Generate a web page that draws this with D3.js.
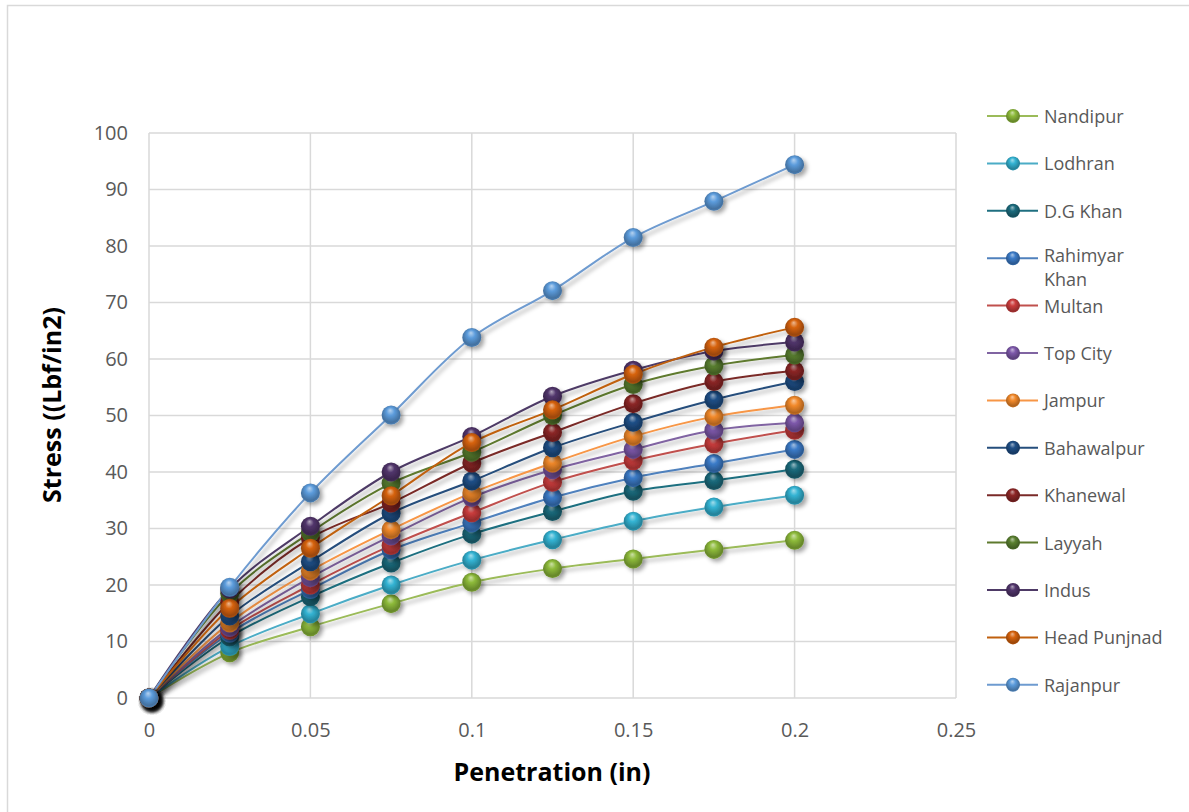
<!DOCTYPE html>
<html>
<head>
<meta charset="utf-8">
<script src="https://cdn.jsdelivr.net/npm/d3@7"></script>
<style>
  html, body { margin: 0; padding: 0; background: #fff; }
  svg { display: block; font-family: "Open Sans", "Noto Sans", sans-serif; }
</style>
</head>
<body>
<svg id="chart" width="1189" height="812"></svg>
<script>
// Penetration readings (in) and CBR stress (Lbf/in2) for each site
const penetration = [0, 0.025, 0.05, 0.075, 0.1, 0.125, 0.15, 0.175, 0.2];

const nandipur     = [0, 8.0, 12.6, 16.7, 20.5, 22.9, 24.6, 26.3, 27.9];
const lodhran      = [0, 9.1, 14.9, 20.0, 24.4, 28.0, 31.3, 33.8, 35.9];
const dgKhan       = [0, 10.8, 17.9, 23.9, 29.0, 33.0, 36.6, 38.5, 40.5];
const rahimyarKhan = [0, 11.5, 19.2, 26.2, 31.0, 35.5, 39.0, 41.5, 44.0];
const multan       = [0, 12.0, 20.0, 27.0, 32.8, 38.2, 42.0, 45.0, 47.4];
const topCity      = [0, 12.5, 21.3, 28.7, 35.5, 40.4, 44.0, 47.4, 48.7];
const jampur       = [0, 13.3, 22.5, 29.8, 36.3, 41.6, 46.3, 49.8, 51.8];
const bahawalpur   = [0, 14.5, 24.1, 32.7, 38.4, 44.3, 48.8, 52.8, 56.0];
const khanewal     = [0, 17.0, 28.3, 34.5, 41.6, 47.0, 52.1, 56.0, 57.9];
const layyah       = [0, 18.5, 29.3, 38.0, 43.5, 50.0, 55.5, 58.8, 60.7];
const indus        = [0, 19.3, 30.4, 40.0, 46.3, 53.4, 58.0, 61.4, 63.0];
const headPunjnad  = [0, 15.9, 26.5, 35.8, 45.2, 51.0, 57.3, 62.1, 65.6];
const rajanpur     = [0, 19.6, 36.3, 50.1, 63.8, 72.1, 81.5, 87.9, 94.4];

const seriesNames = ["Nandipur", "Lodhran", "D.G Khan", "Rahimyar Khan", "Multan", "Top City",
  "Jampur", "Bahawalpur", "Khanewal", "Layyah", "Indus", "Head Punjnad", "Rajanpur"];
const seriesValues = [nandipur, lodhran, dgKhan, rahimyarKhan, multan, topCity,
  jampur, bahawalpur, khanewal, layyah, indus, headPunjnad, rajanpur];

const xTicks = [0, 0.05, 0.1, 0.15, 0.2, 0.25];
const yTicks = [0, 10, 20, 30, 40, 50, 60, 70, 80, 90, 100];

const xTitle = "Penetration (in)";
const yTitle = "Stress ((Lbf/in2)";

// line colour and marker colour per series
const lineColors = ["#9BBB59", "#4BACC6", "#1F6F80", "#4F81BD", "#C0504D", "#8064A2",
  "#F79646", "#254E7C", "#7A2A28", "#5E7A2E", "#4E3A66", "#C0600E", "#6E9BD0"];
const ballColors = ["#8DBA3A", "#33B3D3", "#1B6B7D", "#3B7BC8", "#CC3D3D", "#7D58AA",
  "#F2892A", "#1F4F87", "#8C2626", "#5A8030", "#51356B", "#D6620C", "#5C9CDC"];

const svg = d3.select("#chart");
const defs = svg.append("defs");

// soft grey shadow under lines and markers
const shadow = defs.append("filter").attr("id", "shadow")
  .attr("x", "-50%").attr("y", "-50%").attr("width", "200%").attr("height", "200%");
shadow.append("feDropShadow").attr("dx", 3).attr("dy", 3).attr("stdDeviation", 2)
  .attr("flood-color", "#000").attr("flood-opacity", 0.35);

// glossy sphere shading for each marker colour
ballColors.forEach((c, i) => {
  const g = defs.append("radialGradient").attr("id", "ball" + i)
    .attr("cx", "50%").attr("cy", "45%").attr("r", "60%")
    .attr("fx", "45%").attr("fy", "25%");
  const base = d3.color(c);
  g.append("stop").attr("offset", "0%").attr("stop-color", d3.interpolateRgb(c, "#fff")(0.55));
  g.append("stop").attr("offset", "35%").attr("stop-color", c);
  g.append("stop").attr("offset", "80%").attr("stop-color", base.darker(0.9));
  g.append("stop").attr("offset", "100%").attr("stop-color", base.darker(0.4));
});

// chart frame
svg.append("rect").attr("x", 7.5).attr("y", 5.5).attr("width", 1300).attr("height", 900)
  .attr("fill", "#fff").attr("stroke", "#D9D9D9").attr("stroke-width", 1.5);

const plot = { left: 149, right: 956, top: 133, bottom: 698 };
const x = d3.scaleLinear().domain([0, 0.25]).range([plot.left, plot.right]);
const y = d3.scaleLinear().domain([0, 100]).range([plot.bottom, plot.top]);

// gridlines
const grid = svg.append("g").attr("stroke", "#D9D9D9").attr("stroke-width", 1.5);
grid.selectAll("line.h").data(yTicks).join("line")
  .attr("x1", plot.left).attr("x2", plot.right)
  .attr("y1", d => y(d)).attr("y2", d => y(d));
grid.selectAll("line.v").data(xTicks).join("line")
  .attr("y1", plot.top).attr("y2", plot.bottom)
  .attr("x1", d => x(d)).attr("x2", d => x(d));

// axes (labels only, gridlines carry the lines)
const yAxis = svg.append("g").attr("transform", `translate(${plot.left - 21},0)`)
  .call(d3.axisLeft(y).tickValues(yTicks).tickSize(0).tickPadding(0).tickFormat(d3.format("d")));
yAxis.select(".domain").remove();
yAxis.selectAll("text").attr("font-size", 20).attr("fill", "#595959")
  .attr("font-family", "Open Sans, sans-serif");

const xAxis = svg.append("g").attr("transform", `translate(0,${plot.bottom + 25})`)
  .call(d3.axisBottom(x).tickValues(xTicks).tickSize(0).tickPadding(0).tickFormat(d => d === 0 ? "0" : String(d)));
xAxis.select(".domain").remove();
xAxis.selectAll("text").attr("font-size", 20).attr("fill", "#595959")
  .attr("font-family", "Open Sans, sans-serif");

// axis titles
svg.append("text").attr("x", 552).attr("y", 781).attr("text-anchor", "middle")
  .attr("font-size", 25).attr("font-weight", "bold").attr("fill", "#000").text(xTitle);
svg.append("text").attr("transform", "translate(61,405) rotate(-90)").attr("text-anchor", "middle")
  .attr("font-size", 25).attr("font-weight", "bold").attr("fill", "#000").text(yTitle);

// smoothed series lines
const line = d3.line().x((d, i) => x(penetration[i])).y(d => y(d)).curve(d3.curveCatmullRom.alpha(0.5));
const series = svg.append("g");
seriesValues.forEach((vals, i) => {
  const g = series.append("g").attr("filter", "url(#shadow)");
  g.append("path").datum(vals).attr("d", line).attr("fill", "none")
    .attr("stroke", lineColors[i]).attr("stroke-width", 2);
});
seriesValues.forEach((vals, i) => {
  const g = series.append("g").attr("filter", "url(#shadow)");
  g.selectAll("circle").data(vals).join("circle")
    .attr("cx", (d, j) => x(penetration[j])).attr("cy", d => y(d)).attr("r", 9.5)
    .attr("fill", `url(#ball${i})`);
});

// legend
const legend = svg.append("g");
const legendTop = 116, legendStep = 47.4;
seriesNames.forEach((name, i) => {
  const ly = legendTop + i * legendStep;
  const g = legend.append("g");
  g.append("line").attr("x1", 987).attr("x2", 1038).attr("y1", ly).attr("y2", ly)
    .attr("stroke", lineColors[i]).attr("stroke-width", 2);
  g.append("circle").attr("cx", 1013).attr("cy", ly).attr("r", 7)
    .attr("fill", `url(#ball${i})`);
  // the long name wraps onto a second line
  const words = name === "Rahimyar Khan" ? ["Rahimyar", "Khan"] : [name];
  const t = g.append("text").attr("x", 1044).attr("y", ly + (words.length > 1 ? 4 : 7))
    .attr("font-size", 18).attr("fill", "#595959");
  words.forEach((w, k) => t.append("tspan").attr("x", 1044).attr("dy", k === 0 ? 0 : 24).text(w));
});
</script>
</body>
</html>
